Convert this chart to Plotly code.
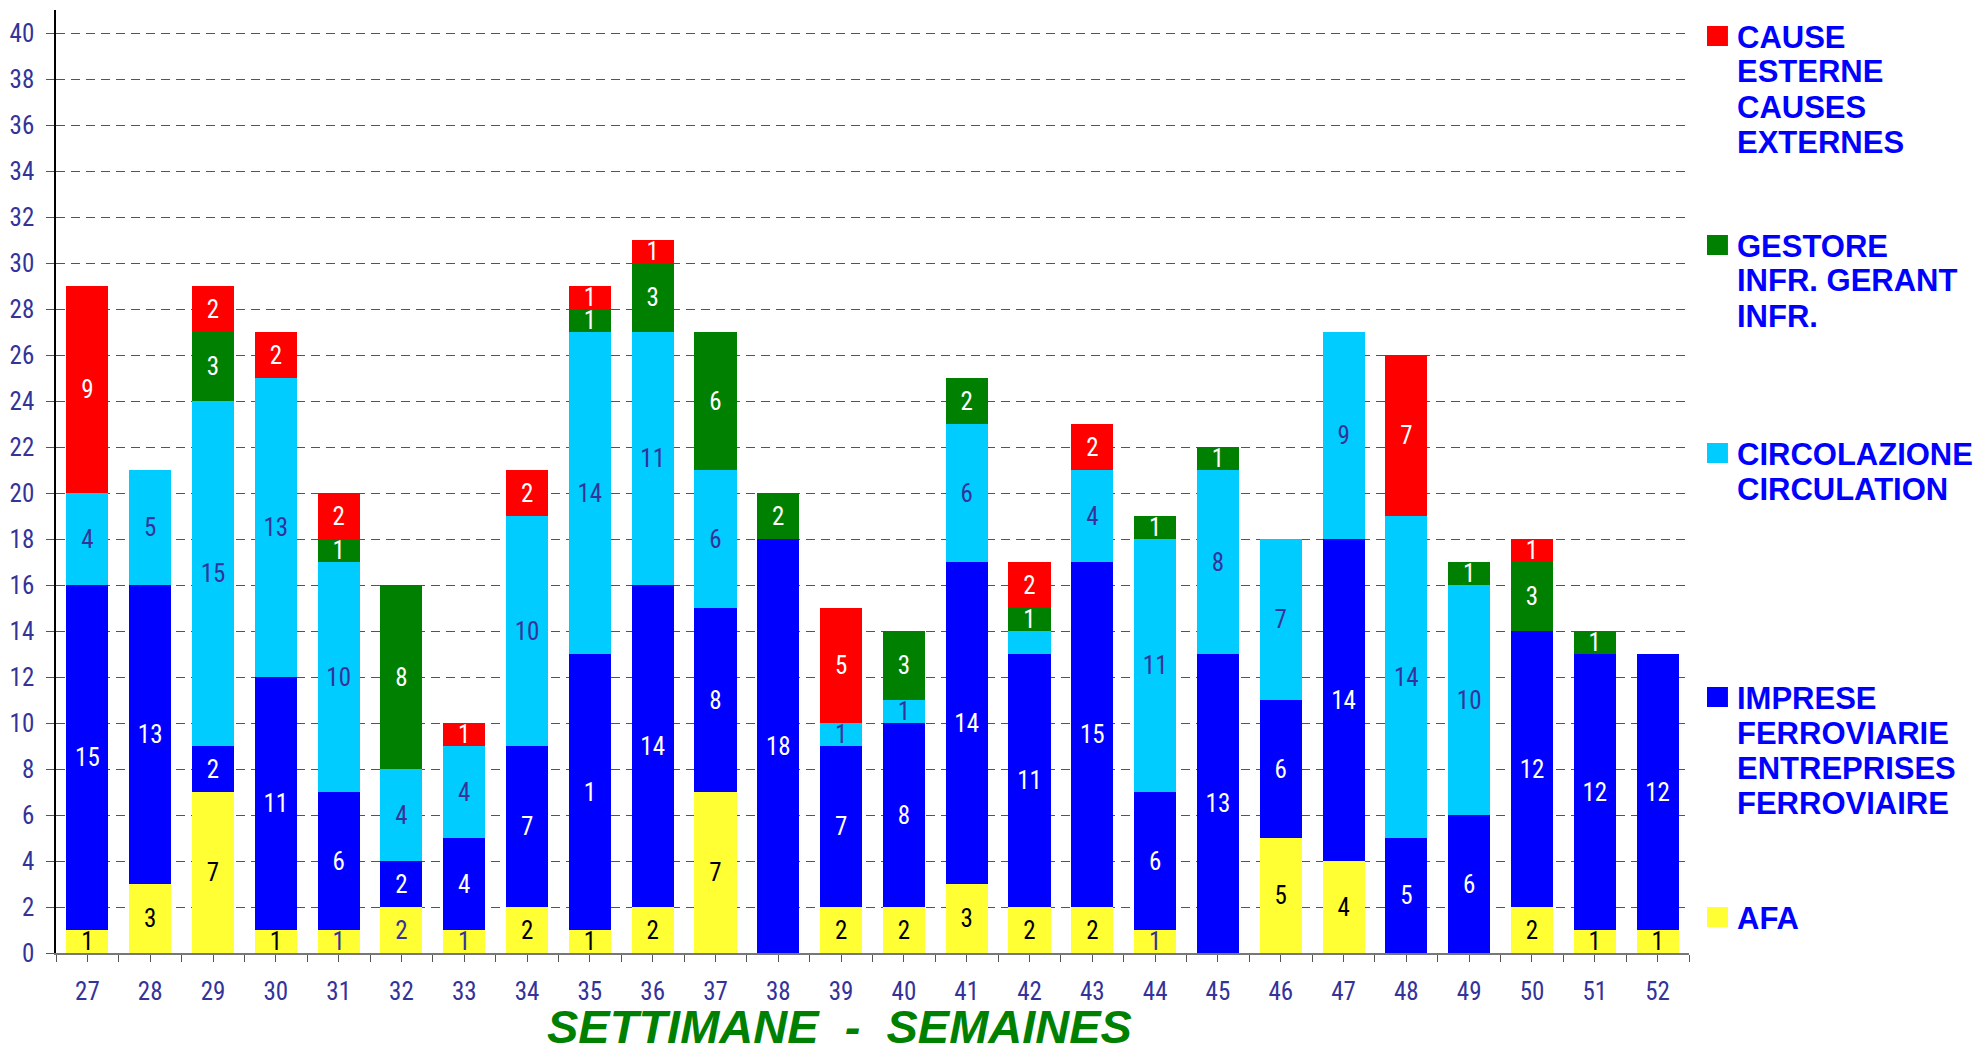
import plotly.graph_objects as go

weeks = list(range(27, 53))
afa = [1, 3, 7, 1, 1, 2, 1, 2, 1, 2, 7, 0, 2, 2, 3, 2, 2, 1, 0, 5, 4, 0, 0, 2, 1, 1]
imprese = [15, 13, 2, 11, 6, 2, 4, 7, 12, 14, 8, 18, 7, 8, 14, 11, 15, 6, 13, 6, 14, 5, 6, 12, 12, 12]
circolazione = [4, 5, 15, 13, 10, 4, 4, 10, 14, 11, 6, 0, 1, 1, 6, 1, 4, 11, 8, 7, 9, 14, 10, 0, 0, 0]
gestore = [0, 0, 3, 0, 1, 8, 0, 0, 1, 3, 6, 2, 0, 3, 2, 1, 0, 1, 1, 0, 0, 0, 1, 3, 1, 0]
cause = [9, 0, 2, 2, 2, 0, 1, 2, 1, 1, 0, 0, 5, 0, 0, 2, 2, 0, 0, 0, 0, 7, 0, 1, 0, 0]

# labels as printed on the chart (week 35 blue shows "1", week 42 cyan has no label)
imprese_labels = [str(v) for v in imprese]
imprese_labels[weeks.index(35)] = "1"
circ_labels = [str(v) if v else "" for v in circolazione]
circ_labels[weeks.index(42)] = ""

# label colour of the yellow segments (a few are printed in slate blue)
afa_label_colors = ["#333399" if w in (31, 32, 33, 44) else "#000000" for w in weeks]

series = [
    ("AFA", afa, None, "#FFFF33", afa_label_colors),
    ("IMPRESE FERROVIARIE ENTREPRISES FERROVIAIRE", imprese, imprese_labels, "#0000FF", "#FFFFFF"),
    ("CIRCOLAZIONE CIRCULATION", circolazione, circ_labels, "#00CCFF", "#333399"),
    ("GESTORE INFR. GERANT INFR.", gestore, None, "#008000", "#FFFFFF"),
    ("CAUSE ESTERNE CAUSES EXTERNES", cause, None, "#FF0000", "#FFFFFF"),
]

legend_blocks = [
    ("#FF0000", ["CAUSE", "ESTERNE", "CAUSES", "EXTERNES"], 36),
    ("#008000", ["GESTORE", "INFR. GERANT", "INFR."], 245),
    ("#00CCFF", ["CIRCOLAZIONE", "CIRCULATION"], 453),
    ("#0000FF", ["IMPRESE", "FERROVIARIE", "ENTREPRISES", "FERROVIAIRE"], 697),
    ("#FFFF33", ["AFA"], 917),
]

# page layout (page pixel coordinates); the page body has an 8px margin
PAGE_W, PAGE_H, OFF = 1981, 1053, 8
W, H = PAGE_W - 2 * OFF, PAGE_H - 2 * OFF
L, R, T, B = 54, 1689, 10, 953
NARROW = "Liberation Sans Narrow, Arial Narrow, Roboto Condensed, sans-serif"


def px2x(px):
    return (px - L) / (R - L)


def py2y(py):
    return (B - py) / (B - T)


fig = go.Figure()
for name, vals, labels, color, tcolor in series:
    if labels is None:
        labels = [str(v) if v else "" for v in vals]
    fig.add_trace(go.Bar(
        x=weeks, y=vals, name=name, text=labels,
        marker=dict(color=color, line=dict(width=0)),
        width=0.67,
        textposition="inside", insidetextanchor="middle", textangle=0,
        textfont=dict(family=NARROW, size=25, color=tcolor),
        showlegend=False,
    ))

fig.update_layout(
    width=W, height=H,
    margin=dict(l=L - OFF, r=W - (R - OFF), t=T - OFF, b=H - (B - OFF), pad=0),
    barmode="stack",
    plot_bgcolor="white", paper_bgcolor="white",
    uniformtext=dict(minsize=25, mode="show"),
    font=dict(family=NARROW),
)

fig.update_xaxes(
    range=[26.5, 52.5], tickvals=weeks, ticktext=[str(w) for w in weeks],
    showgrid=False, zeroline=False,
    showline=True, linecolor="#777777", linewidth=2,
    ticks="outside", ticklen=7, tickcolor="#555555", tickwidth=1,
    minor=dict(tick0=26.5, dtick=1, ticks="outside", ticklen=7, tickcolor="#555555", showgrid=False),
    tickfont=dict(family=NARROW, size=25, color="#333399"),
    ticklabelstandoff=8,
)
fig.update_yaxes(
    range=[0, 41], tickvals=list(range(0, 41, 2)),
    showgrid=True, gridcolor="#555555", gridwidth=1.2, griddash="9px,6px",
    zeroline=False,
    showline=True, linecolor="#000000", linewidth=1.5,
    ticks="outside", ticklen=8, tickcolor="#555555",
    tickfont=dict(family=NARROW, size=25, color="#333399"),
    ticklabelstandoff=7,
)

annotations = []
shapes = []
for color, lines, y0 in legend_blocks:
    shapes.append(dict(
        type="rect", xref="paper", yref="paper",
        x0=px2x(1707), x1=px2x(1728), y0=py2y(y0 + 10), y1=py2y(y0 - 10),
        fillcolor=color, line=dict(width=0),
    ))
    for i, line in enumerate(lines):
        annotations.append(dict(
            text=line, xref="paper", yref="paper",
            x=px2x(1735), y=py2y(y0 + 1 + i * 35), xanchor="left", yanchor="middle",
            showarrow=False,
            font=dict(family="Liberation Sans, Arial, sans-serif", size=31, color="#0000FF", weight="bold"),
        ))

annotations.append(dict(
    text="SETTIMANE\u00a0\u00a0-\u00a0\u00a0SEMAINES", xref="paper", yref="paper",
    x=px2x(838), y=py2y(1027), xanchor="center", yanchor="middle", showarrow=False,
    font=dict(family="Liberation Sans, Arial, sans-serif", size=47, color="#008000",
              weight="bold", style="italic"),
))

fig.update_layout(annotations=annotations, shapes=shapes)
fig.write_html("out.html")
